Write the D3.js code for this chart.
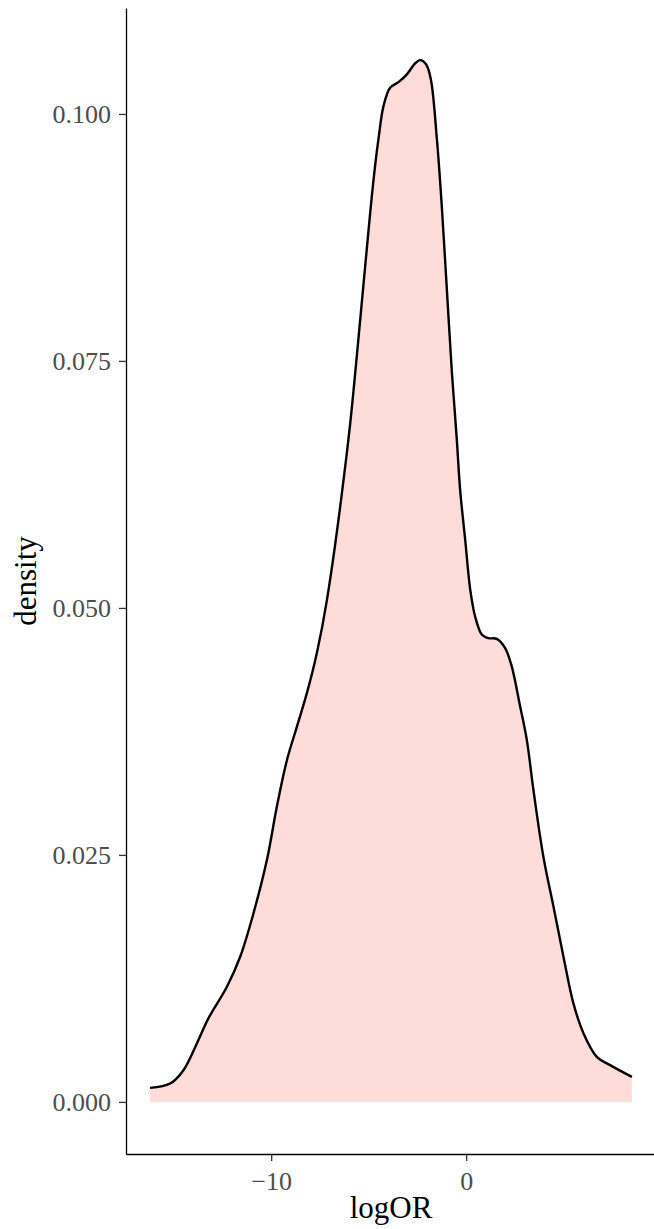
<!DOCTYPE html>
<html lang="en">
<head>
  <meta charset="UTF-8" />
  <title>logOR density</title>
  <style>
    * { margin:0; padding:0; box-sizing:border-box }
    body { background:#fff; font-family:'Liberation Serif','Times New Roman',serif; }
    svg { display:block; }
    .tick text { fill:#4d4d4d; font-size:26px; font-family:'Liberation Serif',serif; }
    .tick line { stroke:#333; }
    .axis-title { fill:#000; font-size:31px; font-family:'Liberation Serif',serif; }
  </style>
</head>
<body>
  <div id="chart"></div>

  <script src="https://d3js.org/d3.v7.min.js"></script>
  <script>
    // density curve
    const logOR = [
      -16.21, -15.18, -14.50, -13.81, -13.22, -12.27, -11.59, -10.91, -10.22, -9.71,
      -9.19, -8.68, -8.17, -7.66, -7.14, -6.04, -5.61, -5.18, -4.75, -4.50,
      -4.24, -3.90, -3.47, -3.04, -2.62, -2.36, -2.05, -1.81, -1.50, -1.25,
      -0.99, -0.73, -0.48, -0.31, -0.05, 0.21, 0.46, 0.81, 1.14, 1.57,
      2.00, 2.34, 2.77, 3.11, 3.45, 3.96, 4.48, 4.99, 5.50, 6.02,
      6.70, 7.38, 8.50
    ];
    const density = [
      0.00142, 0.00186, 0.00321, 0.00592, 0.00845, 0.01165, 0.01469, 0.01908, 0.02448, 0.02988,
      0.03461, 0.03799, 0.04137, 0.04542, 0.05082, 0.06703, 0.07547, 0.08458, 0.09336, 0.09742,
      0.10079, 0.10265, 0.10322, 0.10400, 0.10511, 0.10545, 0.10501, 0.10349, 0.09742, 0.09066,
      0.08222, 0.07378, 0.06703, 0.06196, 0.05690, 0.05183, 0.04913, 0.04728, 0.04694, 0.04687,
      0.04593, 0.04406, 0.04001, 0.03664, 0.03157, 0.02482, 0.01975, 0.01469, 0.00997, 0.00693,
      0.00456, 0.00372, 0.00253
    ];
    const xTicks = [-10, 0];
    const yTicks = [0, 0.025, 0.05, 0.075, 0.1];

    const width = 654, height = 1229;
    const margin = {left:126, right:0, top:8, bottom:75};

    const data = logOR.map((x,i)=>({x, y:density[i]}));

    // ggplot-like 5% expansion
    const xr = d3.extent(logOR), xpad = (xr[1]-xr[0])*0.05;
    const yMax = d3.max(density), ypad = yMax*0.05;

    const x = d3.scaleLinear()
      .domain([xr[0]-xpad, xr[1]+xpad])
      .range([margin.left, width - margin.right + 2]);
    const y = d3.scaleLinear()
      .domain([-ypad, yMax+ypad])
      .range([height - margin.bottom, margin.top]);

    const svg = d3.select("#chart").append("svg")
      .attr("width", width).attr("height", height);

    const curve = d3.curveCatmullRom.alpha(0.5);

    // filled density
    svg.append("path")
      .datum(data)
      .attr("fill", "#fddcda")
      .attr("d", d3.area().x(d=>x(d.x)).y0(y(0)).y1(d=>y(d.y)).curve(curve));

    svg.append("path")
      .datum(data)
      .attr("fill", "none")
      .attr("stroke", "#000")
      .attr("stroke-width", 2.4)
      .attr("stroke-linejoin", "round")
      .attr("d", d3.line().x(d=>x(d.x)).y(d=>y(d.y)).curve(curve));

    // axes
    const gx = svg.append("g")
      .attr("transform", `translate(0,${height - margin.bottom})`)
      .call(d3.axisBottom(x).tickValues(xTicks).tickSize(7).tickSizeOuter(0).tickPadding(6).tickFormat(d3.format("d")));
    const gy = svg.append("g")
      .attr("transform", `translate(${margin.left},0)`)
      .call(d3.axisLeft(y).tickValues(yTicks).tickSize(7).tickSizeOuter(0).tickPadding(8).tickFormat(d3.format(".3f")));

    [gx, gy].forEach(g=>{
      g.select(".domain").attr("stroke", "#000").attr("stroke-width", 1.3);
      g.selectAll(".tick line").attr("stroke-width", 1.3);
    });
    gx.selectAll(".tick text").attr("dy", "0.9em");
    gy.selectAll(".tick text").attr("dy", "0.34em");

    svg.append("text")
      .attr("class", "axis-title")
      .attr("x", (margin.left + width) / 2 + 1)
      .attr("y", 1218)
      .attr("text-anchor", "middle")
      .text("logOR");

    svg.append("text")
      .attr("class", "axis-title")
      .attr("transform", `translate(36,${(margin.top + height - margin.bottom) / 2}) rotate(-90)`)
      .attr("text-anchor", "middle")
      .text("density");
  </script>
</body>
</html>
